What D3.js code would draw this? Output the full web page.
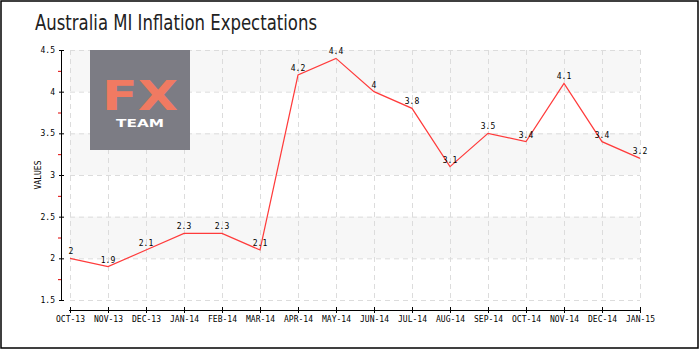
<!DOCTYPE html>
<html><head><meta charset="utf-8">
<script src="https://cdn.jsdelivr.net/npm/d3@7/dist/d3.min.js"></script>
<style>
html,body{margin:0;padding:0;background:#fff;}
svg{display:block;}
</style></head>
<body>
<script>
const categories = ["OCT-13","NOV-13","DEC-13","JAN-14","FEB-14","MAR-14","APR-14","MAY-14","JUN-14","JUL-14","AUG-14","SEP-14","OCT-14","NOV-14","DEC-14","JAN-15"];
const values = [2, 1.9, 2.1, 2.3, 2.3, 2.1, 4.2, 4.4, 4, 3.8, 3.1, 3.5, 3.4, 4.1, 3.4, 3.2];
const yTicks = [1.5, 2, 2.5, 3, 3.5, 4, 4.5];
const title = "Australia MI Inflation Expectations";
const yTitle = "VALUES";

const W = 700, H = 350;
const svg = d3.select("body").append("svg").attr("width", W).attr("height", H);

svg.append("rect").attr("x", 1).attr("y", 1).attr("width", 697).attr("height", 347)
  .attr("fill", "#fff").attr("stroke", "#000").attr("stroke-width", 1.5);

svg.append("text").attr("x", 35).attr("y", 30).text(title)
  .attr("font-family", "'Liberation Sans Narrow','DejaVu Sans Condensed','Roboto',sans-serif")
  .attr("font-size", 21).attr("fill", "#222")
  .attr("textLength", 282).attr("lengthAdjust", "spacingAndGlyphs");

const x = d3.scalePoint().domain(categories).range([70, 640]);
const y = d3.scaleLinear().domain([1.5, 4.5]).range([300, 50]);

// bands
const bands = [[2, 2.5], [3, 3.5], [4, 4.5]];
svg.append("g").selectAll("rect").data(bands).join("rect")
  .attr("x", 70).attr("width", 570)
  .attr("y", d => y(d[1])).attr("height", d => y(d[0]) - y(d[1]))
  .attr("fill", "#f7f7f7");

// grid
const grid = svg.append("g").attr("stroke", "#dcdcdc").attr("stroke-dasharray", "5,4").attr("stroke-width", 1);
grid.selectAll(".h").data(yTicks).join("line").attr("class", "h")
  .attr("x1", 70).attr("x2", 640).attr("y1", d => y(d) + 0.5).attr("y2", d => y(d) + 0.5);
grid.selectAll(".v").data(categories).join("line").attr("class", "v")
  .attr("x1", d => x(d) + 0.5).attr("x2", d => x(d) + 0.5).attr("y1", 50).attr("y2", 300);

// logo
const logo = svg.append("g");
logo.append("rect").attr("x", 90).attr("y", 50).attr("width", 100).attr("height", 100).attr("fill", "#7c7c84");
logo.append("text").attr("x", 140).attr("y", 110).attr("text-anchor", "middle")
  .attr("font-family", "'DejaVu Sans','Open Sans',sans-serif").attr("font-size", 40).attr("font-weight", 700)
  .attr("fill", "#f07a62").attr("textLength", 76).attr("lengthAdjust", "spacingAndGlyphs").text("FX");
logo.append("text").attr("x", 140).attr("y", 127).attr("text-anchor", "middle")
  .attr("font-family", "'DejaVu Sans','Open Sans',sans-serif").attr("font-size", 11).attr("font-weight", 700)
  .attr("fill", "#ffffff").attr("textLength", 48).attr("lengthAdjust", "spacingAndGlyphs").text("TEAM");

const fontTick = "'DejaVu Sans Mono','DejaVu Sans',monospace";

// y axis
const yAxis = svg.append("g").attr("transform", "translate(61,0)")
  .call(d3.axisLeft(y).tickValues(yTicks).tickSize(2).tickSizeOuter(0).tickFormat(d3.format("")));
yAxis.select(".domain").attr("stroke", "#000").attr("d", `M0.5,${y(4.5)}V${y(1.5)}`);
yAxis.selectAll(".tick line").attr("x1", -2).attr("x2", 3).attr("stroke", "#000");
yAxis.selectAll(".tick text").attr("x", -6).attr("font-family", fontTick).attr("font-size", 8).attr("fill", "#000");
// minor red ticks
const minor = [1.75, 2.25, 2.75, 3.25, 3.75, 4.25];
svg.append("g").selectAll("line").data(minor).join("line")
  .attr("x1", 58).attr("x2", 61).attr("y1", d => y(d) + 0.5).attr("y2", d => y(d) + 0.5)
  .attr("stroke", "#e00000");

svg.append("text").attr("transform", `translate(41,${y(3)}) rotate(-90)`)
  .attr("text-anchor", "middle").attr("font-family", fontTick).attr("font-size", 8).text(yTitle);

// x axis
const xAxis = svg.append("g").attr("transform", "translate(0,310)")
  .call(d3.axisBottom(x).tickSize(3).tickSizeOuter(0));
xAxis.select(".domain").attr("stroke", "#000").attr("d", "M69,0.5H640");
xAxis.selectAll(".tick line").attr("y1", -3).attr("y2", 3).attr("stroke", "#000");
xAxis.selectAll(".tick text").attr("y", 6).attr("font-family", fontTick).attr("font-size", 8).attr("fill", "#000");

// line
svg.append("path").datum(values)
  .attr("d", d3.line().x((d, i) => x(categories[i])).y(d => y(d)))
  .attr("fill", "none").attr("stroke", "#ff3b3b").attr("stroke-width", 1.2);

// labels
svg.append("g").selectAll("text").data(values).join("text")
  .attr("x", (d, i) => x(categories[i]) + (i === 0 ? 1 : 0))
  .attr("y", d => y(d) - 4)
  .attr("text-anchor", "middle").attr("font-family", fontTick).attr("font-size", 8).attr("fill", "#000")
  .text(d => String(d));
</script>
</body></html>
